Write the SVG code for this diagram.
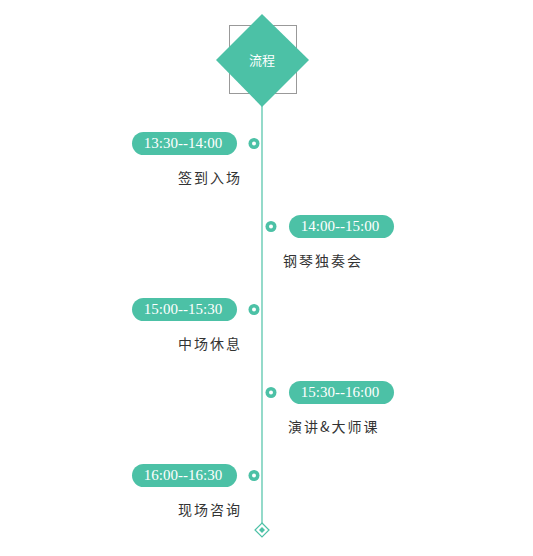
<svg xmlns="http://www.w3.org/2000/svg" width="533" height="556" viewBox="0 0 533 556">
<style>
.pill{fill:#4cc1a6}
.pt{font-family:"Liberation Serif",serif;font-size:15px;fill:#fff;text-anchor:middle}
.lb{font-family:"Noto Sans CJK SC",sans-serif;font-size:14px;fill:#333;letter-spacing:2px}
.dot{fill:#4cc1a6}
</style>
<rect width="533" height="556" fill="#fff"/>
<g id="connectors">
<line x1="262" y1="100" x2="262" y2="523" stroke="#4cc1a6" stroke-width="1.2"/>
</g>
<g id="title">
<rect x="229.5" y="25.5" width="67" height="68" fill="none" stroke="#999" stroke-width="1"/>
<polygon points="262,14 309,60 262,107 216,60" fill="#4cc1a6"/>
<text x="262" y="65" font-family="Noto Sans CJK SC,sans-serif" font-size="13" fill="#fff" text-anchor="middle">流程</text>
</g>
<g id="item1">
<rect class="pill" x="132" y="132" width="105" height="23" rx="11.5"/>
<text class="pt" x="183" y="148">13:30--14:00</text>
<circle cx="254" cy="143.5" r="5.5" class="dot"/><circle cx="254" cy="143.5" r="2" fill="#fff"/>
<text class="lb" x="242" y="183" text-anchor="end">签到入场</text>
</g>
<g id="item2">
<rect class="pill" x="289" y="215" width="105" height="23" rx="11.5"/>
<text class="pt" x="340" y="231">14:00--15:00</text>
<circle cx="271" cy="226.5" r="5.5" class="dot"/><circle cx="271" cy="226.5" r="2" fill="#fff"/>
<text class="lb" x="283" y="266">钢琴独奏会</text>
</g>
<g id="item3">
<rect class="pill" x="132" y="298" width="105" height="23" rx="11.5"/>
<text class="pt" x="183" y="314">15:00--15:30</text>
<circle cx="254" cy="309.5" r="5.5" class="dot"/><circle cx="254" cy="309.5" r="2" fill="#fff"/>
<text class="lb" x="242" y="349" text-anchor="end">中场休息</text>
</g>
<g id="item4">
<rect class="pill" x="289" y="381" width="105" height="23" rx="11.5"/>
<text class="pt" x="340" y="397">15:30--16:00</text>
<circle cx="271" cy="392.5" r="5.5" class="dot"/><circle cx="271" cy="392.5" r="2" fill="#fff"/>
<text class="lb" x="288" y="432">演讲&amp;大师课</text>
</g>
<g id="item5">
<rect class="pill" x="132" y="464" width="105" height="23" rx="11.5"/>
<text class="pt" x="183" y="480">16:00--16:30</text>
<circle cx="254" cy="475.5" r="5.5" class="dot"/><circle cx="254" cy="475.5" r="2" fill="#fff"/>
<text class="lb" x="242" y="515" text-anchor="end">现场咨询</text>
</g>
<g id="end">
<polygon points="262,523 269,530 262,537 255,530" fill="#fff" stroke="#4cc1a6" stroke-width="1.2"/>
<polygon points="262,527 265,530 262,533 259,530" fill="#4cc1a6"/>
</g>
</svg>
